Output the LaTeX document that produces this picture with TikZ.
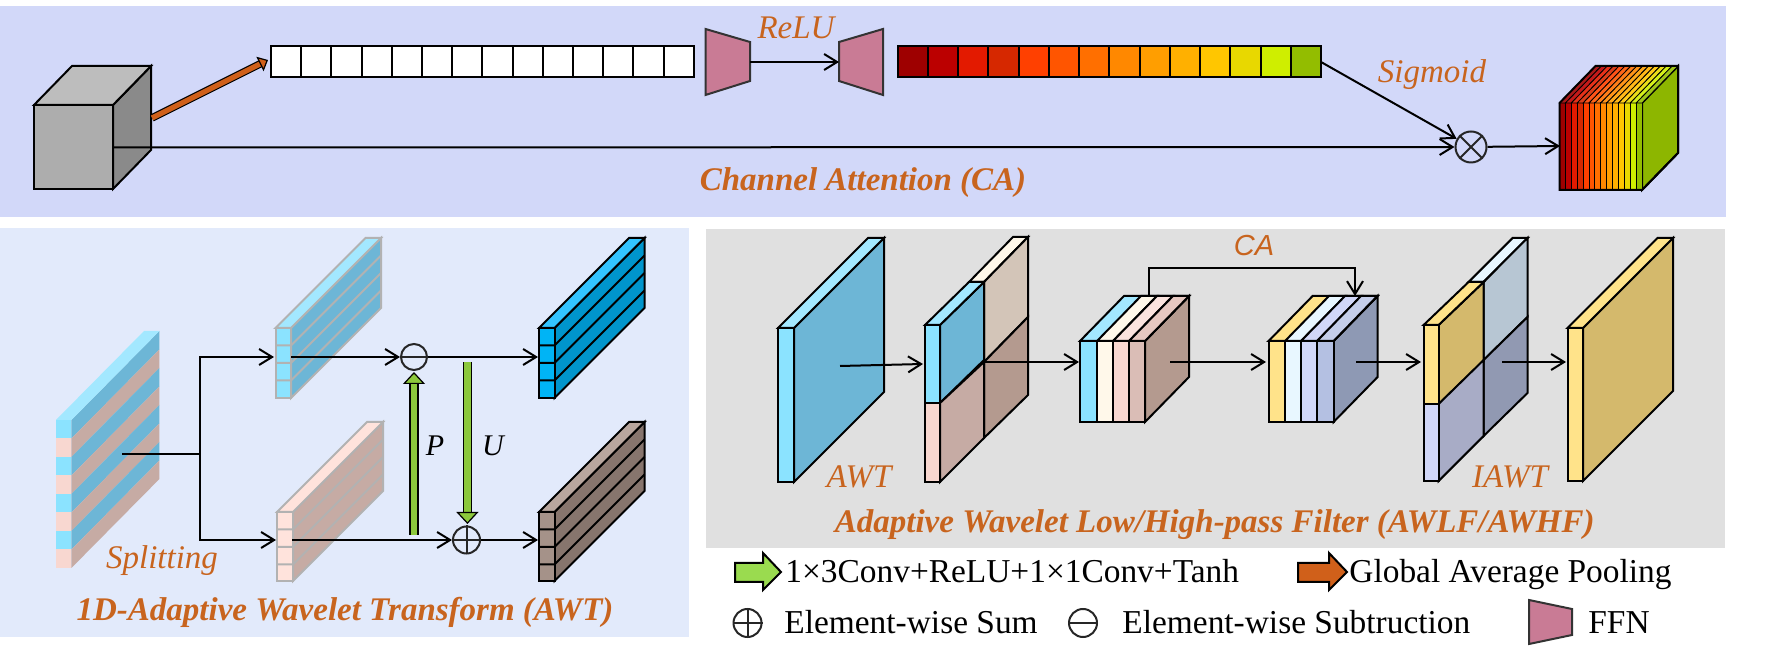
\documentclass[tikz,border=0pt]{standalone}
\usepackage{fontspec}
\setmainfont{Liberation Serif}
\newfontfamily\casans{Liberation Sans}
\usetikzlibrary{arrows.meta}

\definecolor{panelCA}{HTML}{D2D8F9}
\definecolor{panelAWT}{HTML}{E2EAFB}
\definecolor{panelAWLF}{HTML}{E0E0E0}
\definecolor{labelorange}{HTML}{C8641E}
\definecolor{gapblue}{HTML}{D0601A}
\definecolor{ffnpink}{HTML}{C97B95}
\definecolor{updategreen}{HTML}{8CC83C}
\definecolor{legendgreen}{HTML}{9ADB4F}
\definecolor{skyfront}{HTML}{8BE3FF}
\definecolor{skytop}{HTML}{A3E8FF}
\definecolor{skyside}{HTML}{6DB6D6}
\definecolor{pinkfront}{HTML}{F8D7D0}
\definecolor{pinkside}{HTML}{C6ABA4}
\definecolor{pinklight}{HTML}{FFE3DC}
\definecolor{tanside}{HTML}{D3C5B8}
\definecolor{mochaside}{HTML}{B49A8F}
\definecolor{creamfront}{HTML}{FFF8EA}
\definecolor{yellowfront}{HTML}{FFE38A}
\definecolor{yellowside}{HTML}{D4B96C}
\definecolor{icefront}{HTML}{E8F7FF}
\definecolor{lilacfront}{HTML}{D1D7F8}
\definecolor{steelfront}{HTML}{B4C0E2}
\definecolor{steeltop}{HTML}{C5CEEA}
\definecolor{steelside}{HTML}{8E99B4}
\definecolor{mistside}{HTML}{B7C6D3}
\definecolor{haze}{HTML}{A8ACC6}
\definecolor{slate}{HTML}{9199B2}
\definecolor{highfront}{HTML}{00B4F5}
\definecolor{hightop}{HTML}{33C4FF}
\definecolor{highside}{HTML}{0095CC}
\definecolor{lowfront}{HTML}{A59289}
\definecolor{lowtop}{HTML}{B8A69E}
\definecolor{lowside}{HTML}{87756D}
\definecolor{leafside}{HTML}{8DB600}

\tikzset{
  flow/.style={draw=black,line width=1pt,-{Straight Barb[length=6.5pt,width=8pt,line width=1pt]}},
  plainline/.style={draw=black,line width=1pt},
  softedge/.style={draw=black!30,line width=1pt},
  hardedge/.style={draw=black,line width=1pt},
  opcircle/.style={circle,draw=black!85,line width=1pt,inner sep=0pt,minimum size=#1},
  opcircle/.default=14pt,
  opmark/.style={line width=1pt,black!85},
  blockflow/.style={double=#1,double distance=3.4pt,line width=.6pt,draw=black,
    -{Triangle[length=6pt,width=11pt,fill=#1,line width=.6pt]}},
  blockglyph/.style={draw=black,line width=1pt,fill=#1},
  ffnshape/.style={draw=black!80,line width=1pt,fill=ffnpink},
  tagtext/.style={anchor=base,text=labelorange,font=\fontsize{16.5}{18}\selectfont\itshape},
  titletext/.style={anchor=base,text=labelorange,font=\fontsize{16.5}{18}\selectfont\bfseries\itshape},
  mathtag/.style={anchor=base,font=\fontsize{15}{18}\selectfont\itshape},
  legendtext/.style={anchor=base west,inner sep=0pt,font=\fontsize{16.7}{18}\selectfont},
}

% front, top and side face of a box: [edge]{x1}{x2}{top}{bottom}{depth}{front}{top}{side}
\newcommand{\prismbox}[9][hardedge]{
  \draw[#1,fill=#9] (#3,#4) -- ++(#6) -- ++(0,{#5-#4}) -- (#3,#5) -- cycle;
  \draw[#1,fill=#8] (#3,#4) -- (#2,#4) -- ++(#6) -- ++({#3-#2},0) -- cycle;
  \draw[#1,fill=#7] (#2,#4) rectangle (#3,#5);
}

\begin{document}
\begin{tikzpicture}[x=.5pt,y=-.5pt]
    \useasboundingbox (0,0) rectangle (1792,656);
    \fill[panelCA] (0,6) rectangle (1726,217);
    \fill[panelAWT] (0,228) rectangle (689,637);
    \fill[panelAWLF] (706,229) rectangle (1725,548);

    % channel attention
    \prismbox{34}{113}{105}{189}{38,-39}{black!32}{black!26}{black!46}
    \foreach \i in {0,...,13}
        \draw[hardedge,fill=white] ({271+30.2*\i},46) rectangle +(30.2,31);
    \foreach \c [count=\i from 0] in {9E0000,BB0000,E31A00,D62800,FF4000,FF5500,FF6F00,FF8800,FF9E00,FFB000,FFC600,E8D800,CFEE00,93BD00}
        {\definecolor{cellcolor}{HTML}{\c}
        \draw[hardedge,fill=cellcolor] ({897.5+30.25*\i},46) rectangle +(30.25,31);}
    \draw[ffnshape] (705.5,29) -- (750,42) -- (750,81) -- (705.5,95) -- cycle;
    \draw[ffnshape] (883,29) -- (839,42) -- (839,81) -- (883,95) -- cycle;
    \draw[hardedge,fill=leafside] (1642,103) -- ++(36,-37) -- ++(0,87) -- (1642,190) -- cycle;
    \foreach \c [count=\i from 0] in {9E0000,BB0000,E31A00,D62800,FF4000,FF5500,FF6F00,FF8800,FF9E00,FFB000,FFC600,E8D800,CFEE00,93BD00}
        {\definecolor{cellcolor}{HTML}{\c}
        \draw[draw=black,line width=.5pt,fill=cellcolor] ({1559.5+5.9*\i},103) rectangle +(5.9,87);
        \draw[draw=black,line width=.4pt,fill=cellcolor!90!white] ({1559.5+5.9*\i},103) -- ++(36,-37) -- ++(5.9,0) -- ++(-36,37) -- cycle;}
    \draw[hardedge] (1559.5,103) -- ++(36,-37) -- (1678,66) -- (1678,153) -- (1642,190) -- (1559.5,190) -- cycle;

    \coordinate (cubeside) at (152,118);
    \coordinate (cubeout) at (113,147.5);
    \coordinate (graybar) at (268,60);
    \coordinate (ffnleft) at (750,62);
    \coordinate (ffnright) at (839,62);
    \coordinate (colorbar) at (1321,62);
    \coordinate (weighted) at (1560,146);
    \node[opcircle=15.5pt] (mulop) at (1471,147) {};
    \draw[opmark] (mulop.north west) -- (mulop.south east) (mulop.north east) -- (mulop.south west);
    \draw[blockflow=gapblue,double distance=2.6pt,-{Triangle[length=4.5pt,width=8pt,fill=gapblue,line width=.6pt]}] (cubeside) -- (graybar);
    \draw[flow] (ffnleft) -- (ffnright);
    \draw[flow] (colorbar) -- (mulop);
    \draw[flow] (cubeout) -- (mulop);
    \draw[flow] (mulop) -- (weighted);
    \node[tagtext] (relutag) at (796,39) {ReLU};
    \node[tagtext] (sigmoidtag) at (1432,83) {Sigmoid};
    \node[titletext] (catitle) at (863,191) {Channel Attention (CA)};

    % 1D wavelet transform
    \foreach \i/\cf/\cs in {0/skyfront/skyside,1/pinkfront/pinkside,2/skyfront/skyside,3/pinkfront/pinkside,4/skyfront/skyside,5/pinkfront/pinkside,6/skyfront/skyside,7/pinkfront/pinkside}
        {\fill[\cs] (71.4,{420+18.5*\i}) -- ++(88,-89) -- ++(0,18.5) -- ++(-88,89) -- cycle;
        \fill[\cf] (56,{420+18.5*\i}) rectangle +(15.4,18.5);}
    \fill[skytop] (56,420) -- ++(88,-89) -- ++(15.4,0) -- ++(-88,89) -- cycle;

    \prismbox[softedge]{275.5}{291}{328}{398}{90,-90}{skyfront}{skytop}{skyside}
    \prismbox[softedge]{277}{293}{512}{581}{90,-90}{pinklight}{pinklight}{pinkside}
    \prismbox{539}{554.5}{328}{398}{90,-90}{highfront}{hightop}{highside}
    \prismbox{539}{554.5}{512}{581}{90,-90}{lowfront}{lowtop}{lowside}
    \foreach \xa/\xb/\yt/\st in {275.5/291/328/softedge,277/293/512/softedge,539/554.5/328/hardedge,539/554.5/512/hardedge}
        \foreach \i in {1,2,3}
            {\draw[\st] (\xa,{\yt+17.5*\i}) -- (\xb,{\yt+17.5*\i}) -- ++(90,-90);}

    \coordinate (splitstart) at (122,454);
    \coordinate (splitfork) at (199.5,454);
    \coordinate (forkup) at (199.5,357);
    \coordinate (forkdown) at (199.5,540);
    \coordinate (oddin) at (274,357);
    \coordinate (evenin) at (276,540);
    \coordinate (oddout) at (291,357);
    \coordinate (evenout) at (292,540);
    \coordinate (highin) at (538,357);
    \coordinate (lowin) at (538,540);
    \coordinate (pstart) at (414,535);
    \coordinate (pend) at (414,372);
    \coordinate (ustart) at (467.4,362);
    \coordinate (uend) at (467.4,524);
    \node[opcircle=13pt] (subop) at (414,357) {};
    \node[opcircle=13.5pt] (addop) at (466.5,540) {};
    \draw[opmark] (subop.west) -- (subop.east);
    \draw[opmark] (addop.west) -- (addop.east) (addop.north) -- (addop.south);
    \draw[plainline] (splitstart) -- (splitfork);
    \draw[flow] (splitfork) -- (forkup) -- (oddin);
    \draw[flow] (splitfork) -- (forkdown) -- (evenin);
    \draw[flow] (oddout) -- (subop);
    \draw[flow] (evenout) -- (addop);
    \draw[flow] (subop) -- (highin);
    \draw[flow] (addop) -- (lowin);
    \draw[blockflow=updategreen] (pstart) -- (pend);
    \draw[blockflow=updategreen] (ustart) -- (uend);
    \node[mathtag] (ptag) at (435,456) {P};
    \node[mathtag] (utag) at (493,456) {U};
    \node[tagtext] (splittag) at (162,569) {Splitting};
    \node[titletext] (awttitle) at (345,620) {1D-Adaptive Wavelet Transform (AWT)};

    % low/high-pass filter
    \prismbox{778}{794}{328}{482}{90,-90}{skyfront}{skytop}{skyside}

    \draw[hardedge,fill=creamfront] (969,282) -- ++(44,-45) -- ++(15,0) -- ++(-44,45) -- cycle;
    \draw[hardedge,fill=tanside] (984,282) -- (1028,237) -- (1028,317) -- (984,362) -- cycle;
    \draw[hardedge,fill=mochaside] (984,362) -- (1028,317) -- (1028,395) -- (984,438) -- cycle;
    \prismbox{925}{940}{325}{403}{44,-43}{skyfront}{skytop}{skyside}
    \draw[hardedge,fill=pinkside] (940,403) -- (984,362) -- (984,438) -- (940,482) -- cycle;
    \draw[hardedge,fill=pinkfront] (925,403) rectangle (940,482);

    \prismbox{1080}{1145}{341}{422}{44,-45}{skyfront}{skytop}{mochaside}
    \foreach \xa/\xb/\cf/\ct in {1097/1113/creamfront/creamfront,1113/1129/pinkfront/pinkfront!70!white,1129/1145/pinkside!60!pinkfront/pinkside!35!pinkfront}
        {\draw[hardedge,fill=\ct] (\xa,341) -- ++(44,-45) -- ++(16,0) -- (\xb,341) -- cycle;
        \draw[hardedge,fill=\cf] (\xa,341) rectangle (\xb,422);}

    \prismbox{1268.6}{1333.6}{341}{422}{44,-45}{yellowfront}{yellowfront}{steelside}
    \foreach \xa/\xb/\cf/\ct in {1285/1301/icefront/icefront,1301/1317/lilacfront/lilacfront,1317/1333.6/steelfront/steeltop}
        {\draw[hardedge,fill=\ct] (\xa,341) -- ++(44,-45) -- ++(16.3,0) -- (\xb,341) -- cycle;
        \draw[hardedge,fill=\cf] (\xa,341) rectangle (\xb,422);}

    \draw[hardedge,fill=icefront] (1468.6,282) -- ++(44,-44) -- ++(15,0) -- ++(-44,44) -- cycle;
    \draw[hardedge,fill=mistside] (1483.6,282) -- (1527.5,238) -- (1527.5,317) -- (1483.6,360) -- cycle;
    \draw[hardedge,fill=slate] (1483.6,360) -- (1527.5,317) -- (1527.5,393) -- (1483.6,436) -- cycle;
    \prismbox{1423.6}{1438.6}{325}{404}{45,-43}{yellowfront}{yellowfront}{yellowside}
    \draw[hardedge,fill=haze] (1438.6,404) -- (1483.6,360) -- (1483.6,436) -- (1438.6,481) -- cycle;
    \draw[hardedge,fill=lilacfront] (1423.6,404) rectangle (1438.6,481);

    \prismbox{1567.5}{1583}{328}{481}{90,-90}{yellowfront}{yellowfront}{yellowside}

    \coordinate (awtstart) at (840,366);
    \coordinate (awtend) at (923,364);
    \coordinate (splitcenter) at (984,362);
    \coordinate (stackin) at (1079,362);
    \coordinate (stackcenter) at (1170,362);
    \coordinate (reweightin) at (1266,362);
    \coordinate (reweightcenter) at (1356,362);
    \coordinate (iawtin) at (1421,362);
    \coordinate (iawtcenter) at (1502,362);
    \coordinate (mergedin) at (1566,362);
    \coordinate (catop) at (1149,296);
    \coordinate (cacorner) at (1149,268);
    \coordinate (caturn) at (1355,268);
    \coordinate (cadown) at (1355,296);
    \draw[flow] (awtstart) -- (awtend);
    \draw[flow,line width=.8pt] (splitcenter) -- (stackin);
    \draw[flow,line width=.8pt] (stackcenter) -- (reweightin);
    \draw[flow,line width=.8pt] (reweightcenter) -- (iawtin);
    \draw[flow,line width=.8pt] (iawtcenter) -- (mergedin);
    \draw[flow,line width=.8pt] (catop) -- (cacorner) -- (caturn) -- (cadown);
    \node[anchor=base,text=labelorange,font=\fontsize{14.5}{18}\selectfont\casans\itshape] (catag) at (1254,256) {CA};
    \node[tagtext] (awttag) at (859,488) {AWT};
    \node[tagtext] (iawttag) at (1510,488) {IAWT};
    \node[titletext] (awlftitle) at (1214.7,533) {Adaptive Wavelet Low/High-pass Filter (AWLF/AWHF)};

    % legend
    \draw[blockglyph=legendgreen] (735,563) -- (763,563) -- (763,553) -- (781,572) -- (763,590) -- (763,582) -- (735,582) -- cycle;
    \node[legendtext] (textconv) at (785,582) {1×3Conv+ReLU+1×1Conv+Tanh};
    \draw[blockglyph=gapblue] (1298,563) -- (1329,563) -- (1329,553) -- (1347,572) -- (1329,590) -- (1329,582) -- (1298,582) -- cycle;
    \node[legendtext] (textgap) at (1349,582) {Global Average Pooling};
    \node[opcircle=14pt] (glyphadd) at (747.5,623) {};
    \draw[opmark] (glyphadd.west) -- (glyphadd.east) (glyphadd.north) -- (glyphadd.south);
    \node[legendtext] (textadd) at (784,633) {Element-wise Sum};
    \node[opcircle=14pt] (glyphsub) at (1083,623) {};
    \draw[opmark] (glyphsub.west) -- (glyphsub.east);
    \node[legendtext] (textsub) at (1122,633) {Element-wise Subtruction};
    \draw[ffnshape] (1529,600) -- (1572,609) -- (1572,635) -- (1529,644) -- cycle;
    \node[legendtext] (textffn) at (1588,633) {FFN};
\end{tikzpicture}
\end{document}
